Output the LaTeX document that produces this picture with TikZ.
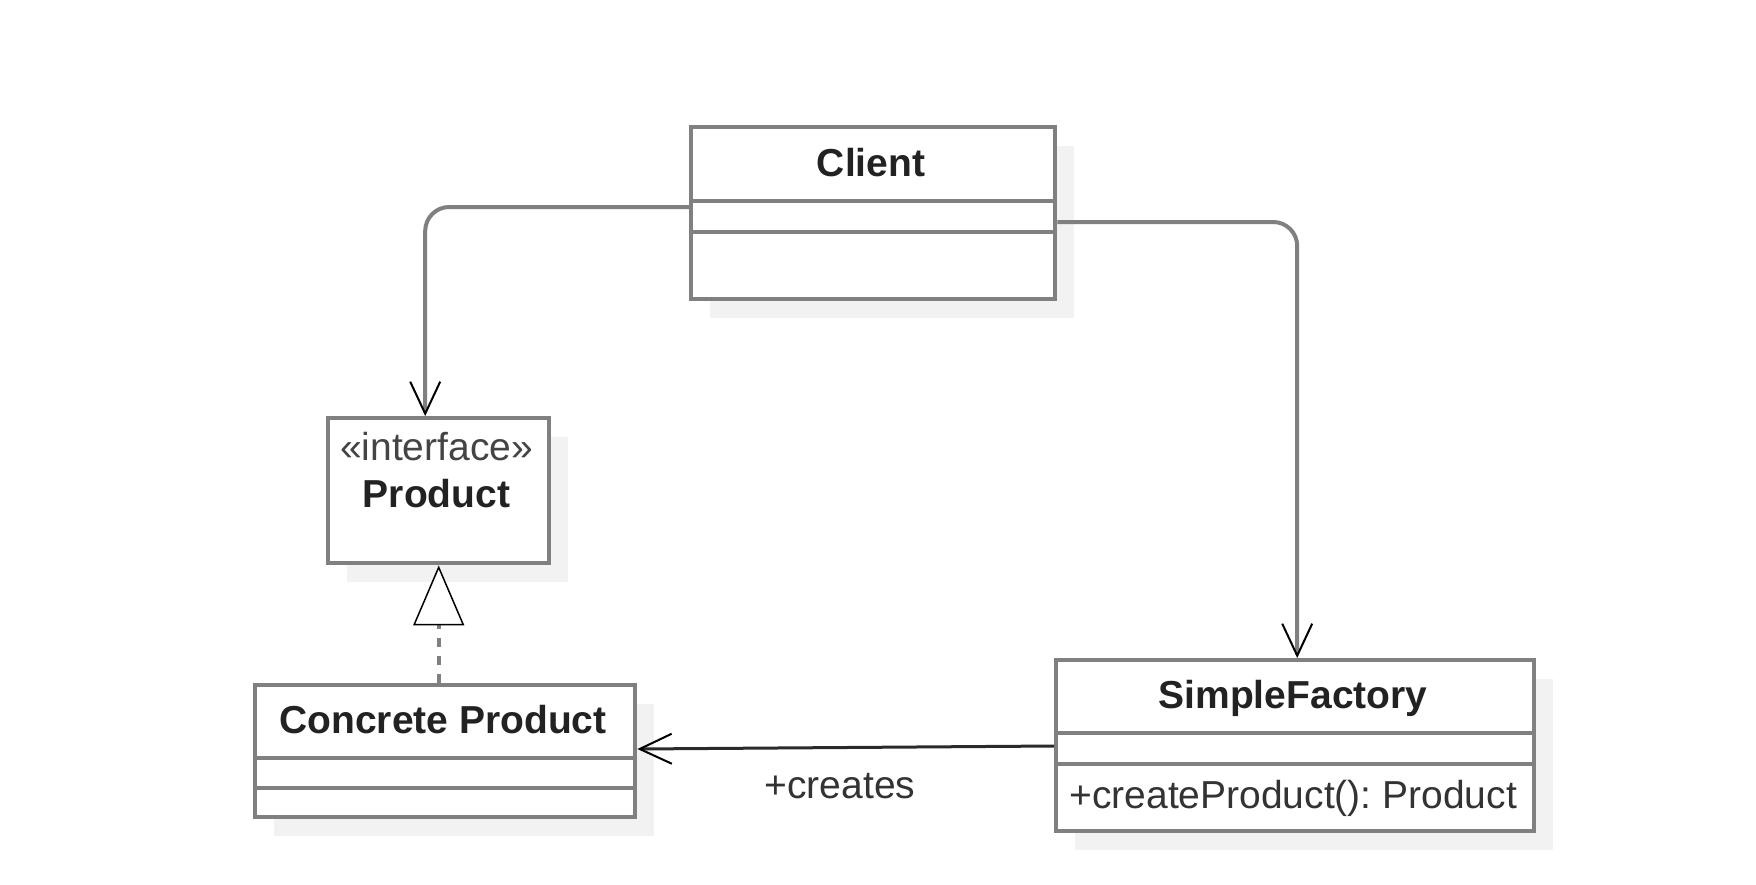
\documentclass[tikz,border=0pt]{standalone}
\usepackage{fontspec}
\setmainfont{Liberation Sans}
\usetikzlibrary{arrows.meta,calc}
\definecolor{linegray}{HTML}{808080}
\definecolor{shadowgray}{HTML}{F2F2F2}
\definecolor{txtdark}{HTML}{222222}
\definecolor{txtreg}{HTML}{333333}
\definecolor{stereogray}{HTML}{444444}
\definecolor{darkline}{HTML}{2A2A2A}
\frenchspacing
\begin{document}
\begin{tikzpicture}[x=0.5pt,y=-0.5pt,
  umlbox/.style={draw=linegray, line width=2.2pt, fill=white, inner sep=0pt, anchor=north west},
  shade/.style={fill=shadowgray},
  sepline/.style={draw=linegray, line width=2.2pt},
  conn/.style={draw=linegray, line width=2pt},
  titletext/.style={font=\bfseries\fontsize{19.5}{23}\selectfont, text=txtdark, anchor=base, inner sep=0pt},
  plaintext/.style={font=\fontsize{19.5}{23}\selectfont, text=txtreg, inner sep=0pt},
  vtip/.style={-{Straight Barb[length=16pt,width=15pt,line width=1pt,color=black]}},
  realtip/.style={-{Triangle[length=30pt,width=25.5pt,line width=0.75pt,color=black,fill=white]}}
]
\fill[white] (0,0) rectangle (1756,884);
\useasboundingbox (0,0) rectangle (1756,884);

% shadows
\fill[shade] (710,146) rectangle (1074,318);
\fill[shade] (347,437) rectangle (568,582);
\fill[shade] (274,704) rectangle (654,836);
\fill[shade] (1075,679) rectangle (1553,850);

% boxes
\node[umlbox, minimum width=182pt, minimum height=86pt] (client) at (689,125) {};
\node[umlbox, minimum width=110.5pt, minimum height=72.5pt] (product) at (326,416) {};
\node[umlbox, minimum width=190pt, minimum height=66pt] (concrete) at (253,683) {};
\node[umlbox, minimum width=239pt, minimum height=85.5pt] (factory) at (1054,658) {};

% compartments
\draw[sepline] ($(client.north west)+(0,76)$) -- ($(client.north east)+(0,76)$);
\draw[sepline] ($(client.north west)+(0,107)$) -- ($(client.north east)+(0,107)$);
\draw[sepline] ($(concrete.north west)+(0,75)$) -- ($(concrete.north east)+(0,75)$);
\draw[sepline] ($(concrete.north west)+(0,105)$) -- ($(concrete.north east)+(0,105)$);
\draw[sepline] ($(factory.north west)+(0,75)$) -- ($(factory.north east)+(0,75)$);
\draw[sepline] ($(factory.north west)+(0,106)$) -- ($(factory.north east)+(0,106)$);

% texts
\node[titletext] (clientname) at (871,176) {Client};
\node[plaintext, text=stereogray, anchor=base] (stereo) at (436.5,460) {«interface»};
\node[titletext] (productname) at (436.5,507) {Product};
\node[titletext] (concretename) at (443,733) {Concrete Product};
\node[titletext] (factoryname) at (1293,708) {SimpleFactory};
\node[plaintext, anchor=base west] (method) at (1069,808) {+createProduct(): Product};
\node[plaintext, anchor=base] (creates) at (840,798) {+creates};

% connectors
\draw[conn, rounded corners=12pt, vtip] ($(client.north west)+(0,82)$) -| ($(product.north)+(-13.5,0)$);
\draw[conn, rounded corners=12pt, vtip] ($(client.north east)+(0,97)$) -| ($(factory.north)+(2,0)$);
\draw[draw=darkline, line width=1.5pt, vtip] ($(factory.north west)+(0,88)$) -- ($(concrete.north east)+(0,66)$);
\draw[conn, dash pattern=on 4.5pt off 4.5pt, realtip] (product.south |- concrete.north) -- (product.south);
\end{tikzpicture}
\end{document}
